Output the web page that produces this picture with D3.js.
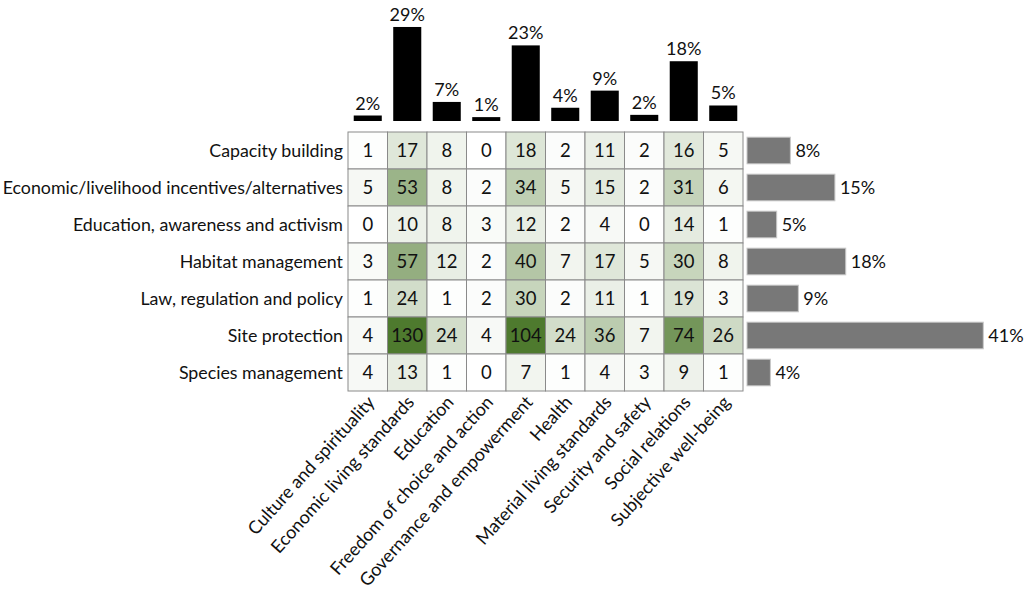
<!DOCTYPE html>
<html><head><meta charset="utf-8">
<script src="https://cdn.jsdelivr.net/npm/d3@7"></script>
<style>body{margin:0;background:#fff}svg{display:block}text{font-family:Lato,"Open Sans",sans-serif;fill:#111}</style>
</head><body><svg id="c" width="1028" height="594"></svg>
<script>
const actions = ["Capacity building","Economic/livelihood incentives/alternatives","Education, awareness and activism","Habitat management","Law, regulation and policy","Site protection","Species management"];
const outcomes = ["Culture and spirituality","Economic living standards","Education","Freedom of choice and action","Governance and empowerment","Health","Material living standards","Security and safety","Social relations","Subjective well-being"];
const counts = [
  [1,17,8,0,18,2,11,2,16,5],
  [5,53,8,2,34,5,15,2,31,6],
  [0,10,8,3,12,2,4,0,14,1],
  [3,57,12,2,40,7,17,5,30,8],
  [1,24,1,2,30,2,11,1,19,3],
  [4,130,24,4,104,24,36,7,74,26],
  [4,13,1,0,7,1,4,3,9,1]
];
const outcomeShare = [1.7,29.1,5.9,1.2,23.4,4.1,9.4,1.9,18.5,4.8];
const outcomeLabels = ["2%","29%","7%","1%","23%","4%","9%","2%","18%","5%"];
const actionShare = [7.6,15.4,5.2,17.3,9.0,41.4,4.1];
const actionLabels = ["8%","15%","5%","18%","9%","41%","4%"];

const svg = d3.select("#c");
const x = d3.scaleBand().domain(outcomes).range([348,743]);
const y = d3.scaleBand().domain(actions).range([132,391]);
const color = d3.scaleLinear().domain([0,94]).range(["#ffffff","#4e7a2e"]).clamp(true);
const yTop = d3.scaleLinear().domain([0,29]).range([121,27.3]);
const xRight = d3.scaleLinear().domain([0,41]).range([747,981]);

// top bars
const tb = svg.append("g");
const bw = x.bandwidth()*0.71;
tb.selectAll("rect").data(outcomes).join("rect")
  .attr("x", d=>x(d)+(x.bandwidth()-bw)/2)
  .attr("y", (d,i)=>yTop(outcomeShare[i]))
  .attr("width", bw)
  .attr("height", (d,i)=>yTop(0)-yTop(outcomeShare[i]))
  .attr("fill","#000");
tb.selectAll("text").data(outcomes).join("text")
  .attr("x", d=>x(d)+x.bandwidth()/2)
  .attr("y", (d,i)=>yTop(outcomeShare[i])-6)
  .attr("text-anchor","middle").attr("font-size",18)
  .text((d,i)=>outcomeLabels[i]);

// heatmap
const cells = [];
counts.forEach((row,r)=>row.forEach((v,c)=>cells.push({a:actions[r],o:outcomes[c],v})));
const hm = svg.append("g");
hm.selectAll("rect").data(cells).join("rect")
  .attr("x", d=>x(d.o)).attr("y", d=>y(d.a))
  .attr("width", x.bandwidth()).attr("height", y.bandwidth())
  .attr("fill", d=>color(d.v)).attr("stroke","#8a8a8a").attr("stroke-width",1);
hm.selectAll("text").data(cells).join("text")
  .attr("x", d=>x(d.o)+x.bandwidth()/2).attr("y", d=>y(d.a)+y.bandwidth()/2)
  .attr("dy","0.36em").attr("text-anchor","middle").attr("font-size",18.5)
  .text(d=>d.v);

// row labels
svg.append("g").selectAll("text").data(actions).join("text")
  .attr("x",343).attr("y", d=>y(d)+y.bandwidth()/2).attr("dy","0.36em")
  .attr("text-anchor","end").attr("font-size",17.8).text(d=>d);

// column labels
svg.append("g").selectAll("text").data(outcomes).join("text")
  .attr("transform", d=>`translate(${x(d)+x.bandwidth()/2+8},403) rotate(-48)`)
  .attr("text-anchor","end").attr("font-size",18).text(d=>d);

// right bars
const rb = svg.append("g");
const bh = y.bandwidth()*0.72;
rb.selectAll("rect").data(actions).join("rect")
  .attr("x", xRight(0)).attr("y", d=>y(d)+(y.bandwidth()-bh)/2)
  .attr("width", (d,i)=>xRight(actionShare[i])-xRight(0)).attr("height", bh)
  .attr("fill","#787878").attr("stroke","#c8c8c8").attr("stroke-width",1);
rb.selectAll("text").data(actions).join("text")
  .attr("x", (d,i)=>xRight(actionShare[i])+5).attr("y", d=>y(d)+y.bandwidth()/2).attr("dy","0.36em")
  .attr("font-size",18).text((d,i)=>actionLabels[i]);
</script></body></html>
